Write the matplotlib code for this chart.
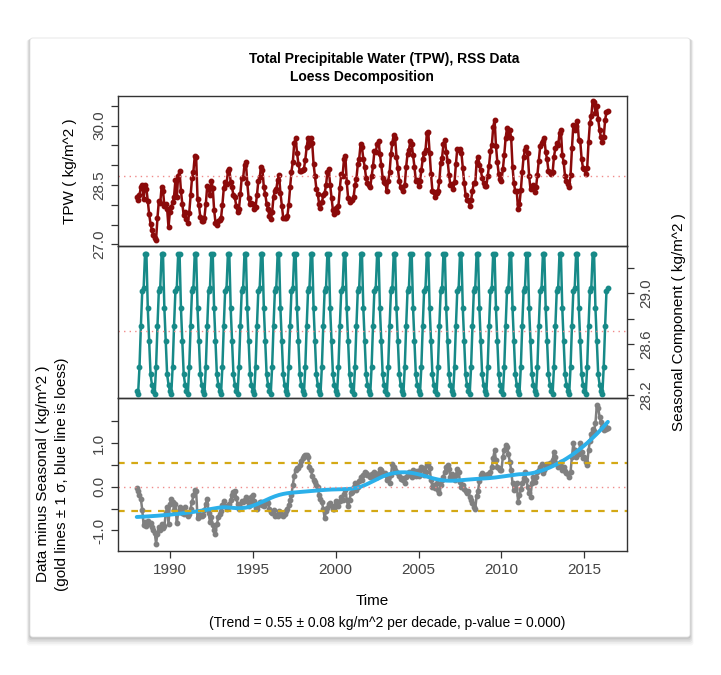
import numpy as np
import matplotlib
matplotlib.use("Agg")
import matplotlib.pyplot as plt
from matplotlib.patches import FancyBboxPatch

plt.rcParams['font.family'] = ['Liberation Sans', 'DejaVu Sans']

# monthly series, Jan 1988 .. Jun 2016
start_year = 1988

# seasonal component (kg/m^2), Jan..Dec
seasonal_cycle = [28.23, 28.21, 28.42, 28.74, 29.02, 29.04,
                  29.31, 29.31, 28.88, 28.62, 28.36, 28.28]

# data minus seasonal, read per year (kg/m^2)
anom_1988 = [-0.04, -0.10, -0.18, -0.28, -0.53, -0.88, -0.80, -0.90, -0.78, -0.86, -0.84, -0.92]
anom_1989 = [-1.00, -1.05, -1.30, -1.07, -0.92, -1.00, -0.86, -0.95, -0.90, -0.61, -0.46, -0.85]
anom_1990 = [-0.40, -0.27, -0.36, -0.53, -0.40, -0.84, -0.58, -0.46, -0.53, -0.60, -0.62, -0.46]
anom_1991 = [-0.60, -0.66, -0.62, -0.50, -0.35, -0.20, -0.08, -0.10, -0.72, -0.62, -0.66, -0.68]
anom_1992 = [-0.65, -0.53, -0.40, -0.27, -0.60, -0.80, -0.70, -0.88, -1.00, -1.07, -0.86, -0.70]
anom_1993 = [-0.62, -0.55, -0.42, -0.32, -0.44, -0.52, -0.46, -0.40, -0.30, -0.18, -0.12, -0.09]
anom_1994 = [-0.25, -0.40, -0.52, -0.47, -0.33, -0.36, -0.30, -0.23, -0.32, -0.45, -0.35, -0.23]
anom_1995 = [-0.20, -0.32, -0.48, -0.50, -0.42, -0.34, -0.35, -0.42, -0.44, -0.34, -0.33, -0.38]
anom_1996 = [-0.50, -0.58, -0.60, -0.54, -0.66, -0.65, -0.68, -0.56, -0.58, -0.64, -0.68, -0.62]
anom_1997 = [-0.55, -0.50, -0.42, -0.30, -0.18, 0.05, 0.25, 0.38, 0.44, 0.42, 0.50, 0.58]
anom_1998 = [0.66, 0.70, 0.72, 0.72, 0.68, 0.46, 0.38, 0.25, 0.15, 0.10, 0.05, 0.00]
anom_1999 = [-0.20, -0.28, -0.36, -0.50, -0.72, -0.55, -0.48, -0.40, -0.38, -0.45, -0.50, -0.52]
anom_2000 = [-0.32, -0.38, -0.45, -0.32, -0.24, -0.30, -0.16, -0.08, -0.30, -0.45, -0.30, -0.15]
anom_2001 = [-0.12, 0.00, 0.08, -0.08, 0.00, 0.12, 0.22, 0.15, 0.28, 0.34, 0.32, 0.28]
anom_2002 = [0.27, 0.23, 0.30, 0.23, 0.33, 0.30, 0.23, 0.31, 0.40, 0.38, 0.32, 0.30]
anom_2003 = [0.31, 0.15, 0.19, 0.08, 0.27, 0.53, 0.46, 0.38, 0.34, 0.31, 0.25, 0.18]
anom_2004 = [0.20, 0.15, 0.08, 0.22, 0.27, 0.34, 0.31, 0.23, 0.38, 0.34, 0.25, 0.35]
anom_2005 = [0.24, 0.38, 0.46, 0.42, 0.28, 0.34, 0.50, 0.53, 0.42, 0.15, 0.00, 0.05]
anom_2006 = [-0.04, 0.08, -0.08, -0.15, 0.04, 0.15, 0.23, 0.34, 0.46, 0.50, 0.40, 0.22]
anom_2007 = [0.30, 0.19, 0.15, 0.28, 0.40, 0.34, 0.10, 0.00, 0.04, -0.06, -0.10, -0.15]
anom_2008 = [-0.10, -0.23, -0.30, -0.38, -0.46, -0.50, -0.22, -0.10, 0.12, 0.27, 0.31, 0.28]
anom_2009 = [0.24, 0.27, 0.30, 0.25, 0.34, 0.46, 0.65, 0.84, 0.61, 0.46, 0.42, 0.38]
anom_2010 = [0.38, 0.69, 0.84, 0.95, 0.92, 0.76, 0.57, 0.38, 0.08, -0.08, -0.02, 0.08]
anom_2011 = [-0.34, -0.20, -0.05, 0.08, 0.19, 0.34, 0.15, 0.00, -0.15, -0.23, 0.08, 0.23]
anom_2012 = [0.10, 0.23, 0.34, 0.38, 0.46, 0.53, 0.31, 0.38, 0.46, 0.53, 0.50, 0.55]
anom_2013 = [0.55, 0.61, 0.80, 0.69, 0.53, 0.46, 0.50, 0.57, 0.38, 0.46, 0.36, 0.31]
anom_2014 = [0.30, 0.23, 0.34, 0.69, 1.00, 0.84, 0.69, 0.80, 0.76, 0.99, 0.80, 0.65]
anom_2015 = [0.68, 0.57, 0.50, 0.84, 1.05, 1.20, 1.32, 1.28, 1.45, 1.87, 1.80, 1.60]
anom_2016 = [1.48, 1.37, 1.30, 1.40, 1.33, 1.34]

year_ticks = [1990, 1995, 2000, 2005, 2010, 2015]
tpw_ticks = [27.0, 27.5, 28.0, 28.5, 29.0, 29.5, 30.0, 30.5]
tpw_tick_labels = ['27.0', '', '', '28.5', '', '', '30.0', '']
seas_ticks = [28.2, 28.4, 28.6, 28.8, 29.0, 29.2]
seas_tick_labels = ['28.2', '', '28.6', '', '29.0', '']
anom_ticks = [-1.0, -0.5, 0.0, 0.5, 1.0, 1.5]
anom_tick_labels = ['-1.0', '', '0.0', '', '1.0', '']

anomaly = np.concatenate([anom_1988, anom_1989, anom_1990, anom_1991, anom_1992,
                          anom_1993, anom_1994, anom_1995, anom_1996, anom_1997,
                          anom_1998, anom_1999, anom_2000, anom_2001, anom_2002,
                          anom_2003, anom_2004, anom_2005, anom_2006, anom_2007,
                          anom_2008, anom_2009, anom_2010, anom_2011, anom_2012,
                          anom_2013, anom_2014, anom_2015, anom_2016])
n = len(anomaly)
t = start_year + np.arange(n) / 12.0
seasonal = np.resize(seasonal_cycle, n)
tpw = anomaly + seasonal
sigma = np.std(anomaly)


def loess(x, y, span=0.25, degree=2):
    q = int(np.floor(len(x) * span))
    fit = np.empty(len(x))
    for i in range(len(x)):
        d = np.abs(x - x[i])
        h = np.sort(d)[q - 1]
        w = np.clip(1 - (d / h) ** 3, 0, None) ** 3
        A = np.vander(x - x[i], degree + 1)
        sw = np.sqrt(w)
        coef = np.linalg.lstsq(A * sw[:, None], y * sw, rcond=None)[0]
        fit[i] = coef[-1]
    return fit


smooth = loess(t, anomaly, span=0.38)

W, H = 721, 675
fig = plt.figure(figsize=(W / 100, H / 100), dpi=100)

# card with soft shadow
for k, a in enumerate([0.03, 0.04, 0.05, 0.06, 0.08]):
    off = (5 - k)
    fig.patches.append(FancyBboxPatch(((30 - off * 0.7) / W, (38 - off * 1.7) / H),
                                      (660 + off * 1.4) / W, (599 + off * 1.4) / H,
                                      boxstyle="round,pad=0,rounding_size=0.004",
                                      transform=fig.transFigure, fc='black', ec='none',
                                      alpha=a, zorder=-3))
fig.patches.append(FancyBboxPatch((30 / W, 38 / H), 660 / W, 599 / H,
                                  boxstyle="round,pad=0,rounding_size=0.004",
                                  transform=fig.transFigure, fc='white', ec='#e4e4e4',
                                  lw=0.6, zorder=-2))

left, width = 118 / W, 509 / W
ax1 = fig.add_axes([left, 1 - 246 / H, width, 150 / H])
ax2 = fig.add_axes([left, 1 - 398 / H, width, 152 / H])
ax3 = fig.add_axes([left, 1 - 551 / H, width, 153 / H])

xlim = (1986.87, 2017.57)
for ax in (ax1, ax2, ax3):
    ax.set_xlim(*xlim)
    ax.patch.set_alpha(0)
    for s in ax.spines.values():
        s.set_color('#333333')
        s.set_linewidth(1.0)
    ax.tick_params(direction='out', length=5, width=0.9, colors='#333333',
                   labelsize=11, labelcolor='#444444')

# top: data
ax1.plot(t, tpw, color='#8b0a0a', lw=1.8, marker='o', ms=3.2, mec='#8b0a0a')
ax1.axhline(tpw.mean(), color='#f08a8a', lw=1.0, ls=(0, (1, 3)))
ax1.set_ylim(26.96, 30.75)
ax1.set_xticks([])
ax1.set_yticks(tpw_ticks, tpw_tick_labels, rotation=90, va='center')

# middle: seasonal
ax2.plot(t, seasonal, color='#178a88', lw=1.8, marker='o', ms=3.2, mec='#178a88')
ax2.axhline(seasonal.mean(), color='#f08a8a', lw=1.0, ls=(0, (1, 3)))
ax2.set_ylim(28.175, 29.37)
ax2.set_xticks([])
ax2.yaxis.tick_right()
ax2.set_yticks(seas_ticks, seas_tick_labels, rotation=90, va='center')

# bottom: data minus seasonal
ax3.plot(t, anomaly, color='#808080', lw=1.8, marker='o', ms=3.2, mec='#808080')
ax3.plot(t, smooth, color='#2bb0ea', lw=2.8, solid_capstyle='round')
ax3.axhline(0, color='#f08a8a', lw=1.0, ls=(0, (1, 3)))
for s in (sigma, -sigma):
    ax3.axhline(s, color='#d4a915', lw=1.6, ls=(0, (3, 3)))
ax3.set_ylim(-1.47, 2.03)
ax3.set_yticks(anom_ticks, anom_tick_labels, rotation=90, va='center')
ax3.set_xticks(year_ticks, [str(y) for y in year_ticks])

# text
fig.text(384 / W, 1 - 59 / H, 'Total Precipitable Water (TPW), RSS Data',
         ha='center', va='center', fontsize=10, fontweight='bold')
fig.text(362 / W, 1 - 77 / H, 'Loess Decomposition',
         ha='center', va='center', fontsize=10, fontweight='bold')
fig.text(70 / W, 1 - 171 / H, 'TPW ( kg/m^2 )', rotation=90,
         ha='center', va='center', fontsize=11)
fig.text(679 / W, 1 - 322 / H, 'Seasonal Component ( kg/m^2 )', rotation=90,
         ha='center', va='center', fontsize=11)
fig.text(43 / W, 1 - 474 / H, 'Data minus Seasonal ( kg/m^2 )', rotation=90,
         ha='center', va='center', fontsize=11)
fig.text(62 / W, 1 - 474 / H, '(gold lines \u00b1 1 \u03c3, blue line is loess)', rotation=90,
         ha='center', va='center', fontsize=11)
fig.text(372.5 / W, 1 - 601 / H, 'Time', ha='center', va='center', fontsize=11)
fig.text(387 / W, 1 - 623 / H,
         '(Trend = 0.55 \u00b1 0.08 kg/m^2 per decade, p-value = 0.000)',
         ha='center', va='center', fontsize=10)

fig.savefig('out.png', dpi=100)
